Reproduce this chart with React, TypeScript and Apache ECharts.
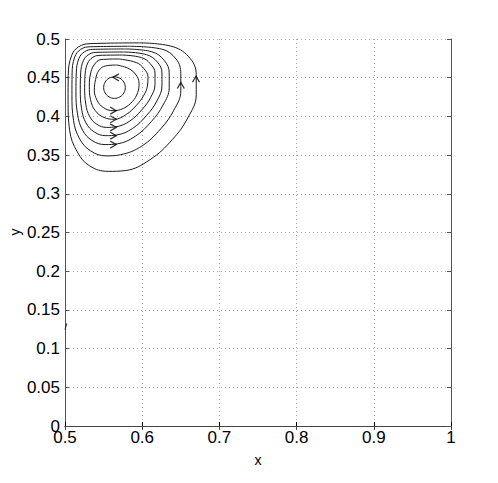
import React, { useEffect, useRef } from "react";
import * as echarts from "echarts";

const xTicks = [0.5, 0.6, 0.7, 0.8, 0.9, 1];
const yTicks = [0, 0.05, 0.1, 0.15, 0.2, 0.25, 0.3, 0.35, 0.4, 0.45, 0.5];

const loop1: number[][] = [
  [0.5641, 0.4513], [0.5571, 0.4494], [0.5520, 0.4443], [0.5501, 0.4373], [0.5520, 0.4303],
  [0.5571, 0.4252], [0.5641, 0.4233], [0.5711, 0.4252], [0.5762, 0.4303], [0.5781, 0.4373],
  [0.5762, 0.4443], [0.5711, 0.4494], [0.5641, 0.4513],
];
const loop2: number[][] = [
  [0.5670, 0.4664], [0.5813, 0.4623], [0.5912, 0.4547], [0.5959, 0.4428], [0.5942, 0.4310],
  [0.5872, 0.4191], [0.5756, 0.4103], [0.5623, 0.4074], [0.5495, 0.4115], [0.5415, 0.4209],
  [0.5380, 0.4340], [0.5396, 0.4475], [0.5438, 0.4593], [0.5525, 0.4652], [0.5670, 0.4664],
];
const loop3: number[][] = [
  [0.5696, 0.4742], [0.5924, 0.4695], [0.6022, 0.4618], [0.6075, 0.4508], [0.6067, 0.4391],
  [0.6022, 0.4274], [0.5924, 0.4142], [0.5794, 0.4025], [0.5641, 0.3963], [0.5505, 0.3986],
  [0.5391, 0.4075], [0.5330, 0.4220], [0.5315, 0.4391], [0.5330, 0.4547], [0.5376, 0.4664],
  [0.5466, 0.4734], [0.5696, 0.4742],
];
const loop4: number[][] = [
  [0.5738, 0.4793], [0.5990, 0.4760], [0.6105, 0.4680], [0.6166, 0.4559], [0.6166, 0.4413],
  [0.6109, 0.4245], [0.5995, 0.4085], [0.5838, 0.3939], [0.5661, 0.3866], [0.5540, 0.3858],
  [0.5412, 0.3898], [0.5319, 0.4000], [0.5269, 0.4159], [0.5255, 0.4377], [0.5262, 0.4559],
  [0.5295, 0.4690], [0.5355, 0.4760], [0.5440, 0.4788], [0.5738, 0.4793],
];
const loop5: number[][] = [
  [0.5760, 0.4832], [0.6055, 0.4798], [0.6195, 0.4704], [0.6256, 0.4562], [0.6256, 0.4394],
  [0.6190, 0.4199], [0.6058, 0.4014], [0.5876, 0.3845], [0.5670, 0.3760], [0.5528, 0.3751],
  [0.5381, 0.3798], [0.5272, 0.3915], [0.5215, 0.4098], [0.5198, 0.4351], [0.5203, 0.4562],
  [0.5238, 0.4720], [0.5300, 0.4795], [0.5400, 0.4827], [0.5760, 0.4832],
];
const loop6: number[][] = [
  [0.5780, 0.4871], [0.6125, 0.4835], [0.6285, 0.4724], [0.6350, 0.4562], [0.6350, 0.4370],
  [0.6270, 0.4147], [0.6120, 0.3935], [0.5910, 0.3743], [0.5680, 0.3646], [0.5520, 0.3636],
  [0.5350, 0.3689], [0.5227, 0.3823], [0.5162, 0.4032], [0.5142, 0.4322], [0.5146, 0.4562],
  [0.5180, 0.4748], [0.5250, 0.4833], [0.5360, 0.4866], [0.5780, 0.4871],
];
const loop7: number[][] = [
  [0.5840, 0.4906], [0.6250, 0.4870], [0.6440, 0.4740], [0.6500, 0.4550], [0.6500, 0.4330],
  [0.6410, 0.4080], [0.6240, 0.3840], [0.6000, 0.3620], [0.5720, 0.3505], [0.5530, 0.3490],
  [0.5330, 0.3556], [0.5190, 0.3710], [0.5110, 0.3950], [0.5090, 0.4280], [0.5092, 0.4550],
  [0.5125, 0.4765], [0.5205, 0.4868], [0.5335, 0.4900], [0.5840, 0.4906],
];
const loop8: number[][] = [
  [0.5970, 0.4950], [0.6400, 0.4900], [0.6620, 0.4750], [0.6700, 0.4540], [0.6700, 0.4280],
  [0.6590, 0.3980], [0.6390, 0.3700], [0.6100, 0.3440], [0.5780, 0.3300], [0.5560, 0.3290],
  [0.5320, 0.3360], [0.5160, 0.3540], [0.5060, 0.3820], [0.5040, 0.4210], [0.5042, 0.4530],
  [0.5085, 0.4785], [0.5175, 0.4898], [0.5325, 0.4940], [0.5970, 0.4950],
];
const strayLine: number[][] = [
  [0.5, 0.1245], [0.5022, 0.1325],
];
const loops = [loop1, loop2, loop3, loop4, loop5, loop6, loop7, loop8];

// arrow positions [x, y] and direction in degrees (0 = right, 90 = up, 180 = left)
const arrowX = [0.5660, 0.5625, 0.5625, 0.5625, 0.5625, 0.5625, 0.6500, 0.6697];
const arrowY = [0.4505, 0.4074, 0.3963, 0.3858, 0.3751, 0.3636, 0.4400, 0.4480];
const arrowDir = [180, 0, 0, 0, 0, 0, 90, 90];

const X_LABEL = "x";
const Y_LABEL = "y";

const FONT = "'Liberation Sans', Arial, Helvetica, sans-serif";

export default function App() {
  const ref = useRef<HTMLDivElement>(null);
  useEffect(() => {
    if (!ref.current) return;
    const chart = echarts.init(ref.current, null, { renderer: "svg" });
    const fmt = (v: number) => String(+v.toFixed(2));
    const lineSeries = loops.map((d, i) => ({
      type: "line",
      name: "loop" + (i + 1),
      data: d,
      smooth: 0.4,
      showSymbol: false,
      symbol: "none",
      lineStyle: { color: "#1a1a1a", width: 1 },
      silent: true,
      z: 3,
    }));
    chart.setOption({
      animation: false,
      backgroundColor: "#fff",
      grid: { left: 65, right: 47, top: 39, bottom: 57, show: false, containLabel: false, outerBoundsMode: "none" },
      graphic: [
        {
          type: "text",
          x: 15,
          y: 232,
          rotation: Math.PI / 2,
          style: {
            text: Y_LABEL,
            fontFamily: FONT,
            fontSize: 14,
            fill: "#000",
            align: "center",
            verticalAlign: "middle",
          },
        },
      ],
      xAxis: [
        {
          type: "value", min: 0.5, max: 1, interval: 0.1,
          name: X_LABEL, nameLocation: "middle", nameGap: 27, nameMoveOverlap: false,
          nameTextStyle: { fontFamily: FONT, fontSize: 14, color: "#000" },
          axisLine: { show: true, lineStyle: { color: "#000", width: 1 } },
          axisTick: { show: true, inside: true, length: 4, lineStyle: { color: "#000" } },
          axisLabel: { formatter: fmt, fontFamily: FONT, fontSize: 17, color: "#000", margin: 3 },
          splitLine: { show: true, lineStyle: { color: "#aaa", type: [1, 3], width: 1 } },
        },
        {
          type: "value", min: 0.5, max: 1, interval: 0.1, position: "top",
          axisLine: { show: true, lineStyle: { color: "#444", width: 1 } },
          axisTick: { show: true, inside: true, length: 4, lineStyle: { color: "#444" } },
          axisLabel: { show: false },
          splitLine: { show: false },
        },
      ],
      yAxis: [
        {
          type: "value", min: 0, max: 0.5, interval: 0.05,
          axisLine: { show: true, lineStyle: { color: "#555", width: 1 } },
          axisTick: { show: true, inside: true, length: 4, lineStyle: { color: "#555" } },
          axisLabel: { formatter: fmt, fontFamily: FONT, fontSize: 17, color: "#000", margin: 5 },
          splitLine: { show: true, lineStyle: { color: "#aaa", type: [1, 3], width: 1 } },
        },
        {
          type: "value", min: 0, max: 0.5, interval: 0.05, position: "right",
          axisLine: { show: true, lineStyle: { color: "#555", width: 1 } },
          axisTick: { show: true, inside: true, length: 4, lineStyle: { color: "#555" } },
          axisLabel: { show: false },
          splitLine: { show: false },
        },
      ],
      series: [
        ...lineSeries,
        {
          type: "line",
          name: "stray",
          data: strayLine,
          showSymbol: false,
          symbol: "none",
          lineStyle: { color: "#1a1a1a", width: 1 },
          silent: true,
        },
        {
          type: "scatter",
          name: "arrows",
          data: arrowX.map((x, i) => ({ value: [x, arrowY[i]], symbolRotate: arrowDir[i] })),
          symbol: "path://M0,0 L10,5 L0,10",
          symbolSize: [6, 7],
          itemStyle: { color: "none", borderColor: "#000", borderWidth: 1.2 },
          silent: true,
          z: 4,
        },
      ],
    });
    return () => chart.dispose();
  }, []);
  return (
    <div
      ref={ref}
      style={{ position: "fixed", left: 0, top: 0, width: 498, height: 483, background: "#fff" }}
    />
  );
}
